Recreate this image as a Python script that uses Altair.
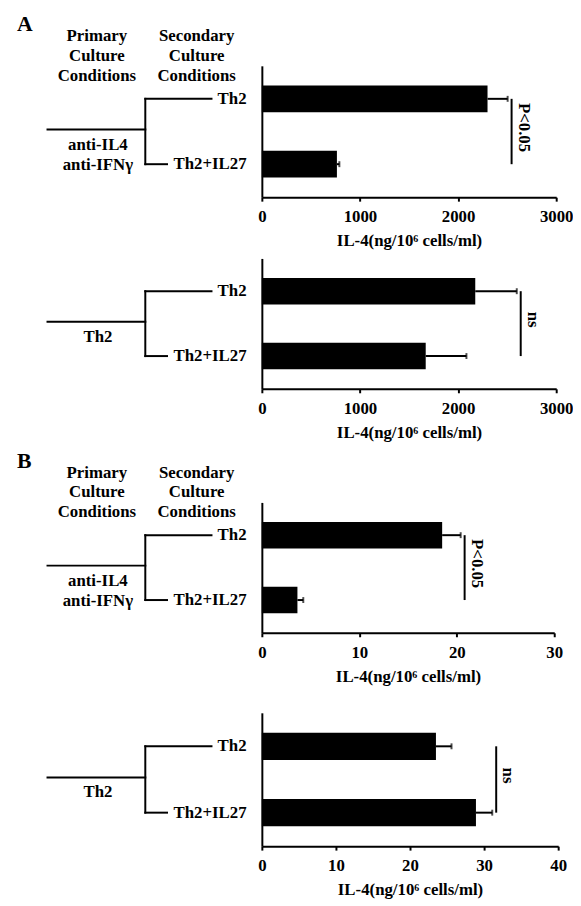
import altair as alt
import pandas as pd

FONT = "Liberation Serif"
AXIS_TITLE = "IL-4(ng/10⁶ cells/ml)"

cats = ["Th2", "Th2+IL27"]

a1_vals = [2300, 765]
a1_errs = [205, 25]
a2_vals = [2175, 1670]
a2_errs = [423, 415]
b1_vals = [18.5, 3.65]
b1_errs = [1.9, 0.6]
b2_vals = [23.5, 28.9]
b2_errs = [2.1, 2.2]

x_max = [3000, 3000, 30, 40]
x_step = [1000, 1000, 10, 10]
sig_labels = ["P<0.05", "ns", "P<0.05", "ns"]
letters = ["A", "", "B", ""]
primary_labels = [["anti-IL4", "anti-IFNγ"], ["Th2"], ["anti-IL4", "anti-IFNγ"], ["Th2"]]
header_primary = ["Primary", "Culture", "Conditions"]
header_secondary = ["Secondary", "Culture", "Conditions"]

FS = 17


def text_layer(df, s, x, y, size=FS, align="center"):
    return alt.Chart(df).mark_text(
        text=s, font=FONT, fontWeight="bold", fontSize=size, color="black",
        align=align, baseline="middle"
    ).encode(x=alt.value(x), y=alt.value(y))


def panel(vals, errs, xmax, step, sig, letter, prim, W, H, top_sp, bottom_sp):
    df = pd.DataFrame({"cat": cats, "val": vals, "err": errs})
    df["hi"] = df["val"] + df["err"]
    one = pd.DataFrame({"x": [df["hi"].max()], "c1": [cats[0]], "c2": [cats[1]], "label": [sig]})

    yscale = alt.Scale(domain=cats, paddingInner=0.59, paddingOuter=0.3)
    yaxis = alt.Axis(title=None, ticks=False, labelPadding=16, labelFont=FONT,
                     labelFontWeight="bold", labelFontSize=FS, labelColor="black",
                     domainColor="black", domainWidth=2, grid=False)
    xaxis = alt.Axis(values=list(range(0, xmax + 1, step)), format="d", title=AXIS_TITLE,
                     titleFont=FONT, titleFontWeight="bold", titleFontSize=FS,
                     titleColor="black", titlePadding=8, labelFont=FONT,
                     labelFontWeight="bold", labelFontSize=FS, labelColor="black",
                     labelPadding=8, domainColor="black", domainWidth=2,
                     tickColor="black", tickWidth=2, tickSize=4, grid=False,
                     labelFlush=False)

    base = alt.Chart(df)
    bars = base.mark_bar(color="black").encode(
        x=alt.X("val:Q", scale=alt.Scale(domain=[0, xmax], nice=False), axis=xaxis, title=AXIS_TITLE),
        y=alt.Y("cat:N", sort=cats, scale=yscale, axis=yaxis, title=None),
    )
    err_line = base.mark_rule(color="black", strokeWidth=2).encode(
        x=alt.X("val:Q", title=AXIS_TITLE), x2="hi:Q",
        y=alt.Y("cat:N", sort=cats, title=None),
    )
    caps = base.mark_tick(color="black", thickness=2, size=6).encode(
        x=alt.X("hi:Q", title=AXIS_TITLE), y=alt.Y("cat:N", sort=cats, title=None)
    )
    sig_rule = alt.Chart(one).mark_rule(color="black", strokeWidth=2, xOffset=4).encode(
        x=alt.X("x:Q", title=AXIS_TITLE),
        y=alt.Y("c1:N", sort=cats, title=None), y2="c2:N",
    )
    sig_text = alt.Chart(one).mark_text(
        angle=90, font=FONT, fontWeight="bold", fontSize=FS, color="black",
        align="center", baseline="middle", xOffset=16
    ).encode(x=alt.X("x:Q", title=AXIS_TITLE), y=alt.value(H / 2 - 4), text="label:N")

    tree_style = dict(color="black", strokeWidth=2, strokeCap="square")
    root = alt.Chart(one).mark_rule(**tree_style).encode(
        x=alt.value(-217), x2=alt.value(-118), y=alt.value(H / 2 - 2))
    vert = alt.Chart(one).mark_rule(**tree_style).encode(
        x=alt.value(-118), y=alt.Y("c1:N", sort=cats, title=None), y2="c2:N")
    up = base.transform_filter(alt.datum.cat == cats[0]).mark_rule(**tree_style).encode(
        x=alt.value(-118), x2=alt.value(-51), y=alt.Y("cat:N", sort=cats, title=None))
    low = base.transform_filter(alt.datum.cat == cats[1]).mark_rule(**tree_style).encode(
        x=alt.value(-118), x2=alt.value(-96), y=alt.Y("cat:N", sort=cats, title=None))

    layers = [bars, err_line, caps, sig_rule, sig_text, root, vert, up, low]
    for i, s in enumerate(prim):
        layers.append(text_layer(one, s, -166, 80 + 20 * i))
    if letter:
        layers.append(text_layer(one, letter, -248, -42, size=22, align="left"))
        for i, s in enumerate(header_primary):
            layers.append(text_layer(one, s, -167, -30 + 20 * i))
        for i, s in enumerate(header_secondary):
            layers.append(text_layer(one, s, -66, -30 + 20 * i))
    # invisible layout spacers
    layers.append(alt.Chart(one).mark_rule(opacity=0).encode(
        x=alt.value(-250), x2=alt.value(0), y=alt.value(-top_sp)))
    if bottom_sp:
        layers.append(alt.Chart(one).mark_rule(opacity=0).encode(
            x=alt.value(-250), x2=alt.value(0), y=alt.value(H + bottom_sp)))
    return alt.layer(*layers).properties(width=W, height=H)


p1 = panel(a1_vals, a1_errs, x_max[0], x_step[0], sig_labels[0], letters[0], primary_labels[0], 298, 133, 53, 60)
p2 = panel(a2_vals, a2_errs, x_max[1], x_step[1], sig_labels[1], letters[1], primary_labels[1], 298, 132, 2, 60)
p3 = panel(b1_vals, b1_errs, x_max[2], x_step[2], sig_labels[2], letters[2], primary_labels[2], 296, 132, 55, 60)
p4 = panel(b2_vals, b2_errs, x_max[3], x_step[3], sig_labels[3], letters[3], primary_labels[3], 300, 135, 21, 0)

chart = alt.vconcat(p1, p2, p3, p4, spacing=0).configure_view(stroke=None).properties(
    padding={"left": 7, "top": 0, "right": 0, "bottom": 0}, background="white"
)

chart.save("out.html", embed_options={"renderer": "svg", "actions": False})
